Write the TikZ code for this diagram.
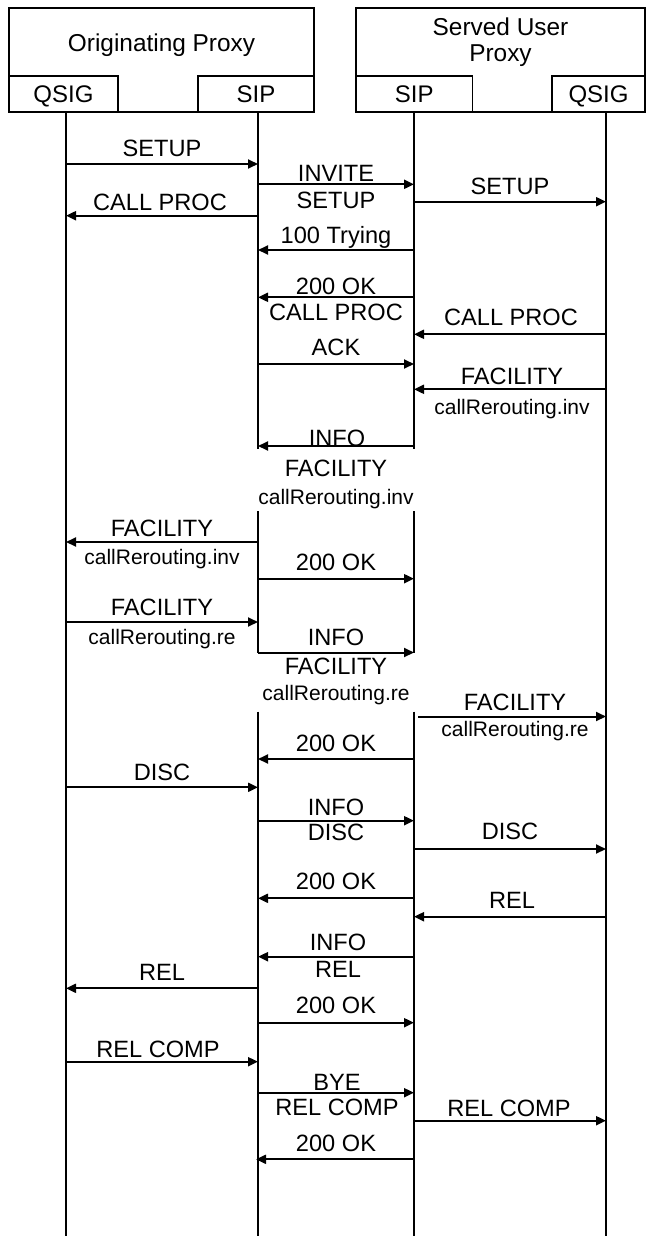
\documentclass[tikz,border=0pt]{standalone}
\usepackage{fontspec}
\setmainfont{Liberation Sans}
\usetikzlibrary{arrows.meta}
\newcommand\seqarrow[4]{%
  \coordinate (#1s) at (#2,#4);
  \coordinate (#1e) at (#3,#4);
  \draw[msg] (#1s) -- (#1e);}
\newcommand\seqlabel[4]{\node[lbl] (#1) at (#2,#3+8.5) {#4};}
\newcommand\seqsmall[4]{\node[slbl] (#1) at (#2,#3+7.5) {#4};}
\begin{document}
\begin{tikzpicture}[x=0.5pt,y=-0.5pt,
  box/.style={draw, line width=0.85pt, inner sep=0pt, text height=8.6pt, text depth=0pt, font=\fontsize{12}{14}\selectfont},
  hdr/.style={anchor=base, inner sep=0pt, font=\fontsize{12.2}{14}\selectfont},
  life/.style={line width=0.65pt},
  msg/.style={line width=1pt, -{Triangle[length=5pt,width=4.5pt]}},
  lbl/.style={anchor=base, inner sep=0pt, font=\fontsize{11.8}{14}\selectfont},
  slbl/.style={anchor=base, inner sep=0pt, font=\fontsize{10.5}{12}\selectfont}]
\useasboundingbox (0,0) rectangle (652,1236);
% header boxes
\node[draw, line width=0.85pt, inner sep=0pt, minimum width=152.5pt, minimum height=52pt] (orig) at (161.5,60) {};
\node[hdr] (origT) at (161.5,51.5) {Originating Proxy};
\node[draw, line width=0.85pt, inner sep=0pt, minimum width=144.5pt, minimum height=52pt] (serv) at (500.5,60) {};
\node[hdr] (servT1) at (500.5,35.5) {Served User};
\node[hdr] (servT2) at (500.5,61.5) {Proxy};
\node[box, minimum width=54.5pt, minimum height=18.2pt] (qsigA) at (63.5,94) {QSIG};
\node[box, minimum width=58pt, minimum height=18.2pt] (sipA) at (256,94) {SIP};
\node[box, minimum width=58.3pt, minimum height=18.2pt] (sipB) at (414.3,94) {SIP};
\node[box, minimum width=46.5pt, minimum height=18.2pt] (qsigB) at (598.5,94) {QSIG};
% lifelines
\coordinate (l1a) at (66,112); \coordinate (l1z) at (66,1236);
\coordinate (l2a) at (258,112); \coordinate (l2b) at (258,449);
\coordinate (l2c) at (258,511); \coordinate (l2d) at (258,653);
\coordinate (l2e) at (258,711.5); \coordinate (l2z) at (258,1236);
\coordinate (l3a) at (414,112); \coordinate (l3b) at (414,449);
\coordinate (l3c) at (414,511); \coordinate (l3d) at (414,653);
\coordinate (l3e) at (414,711.5); \coordinate (l3z) at (414,1236);
\coordinate (l4a) at (606,112); \coordinate (l4z) at (606,1236);
\draw[life] (l1a) -- (l1z);
\draw[life] (l2a) -- (l2b) (l2c) -- (l2d) (l2e) -- (l2z);
\draw[life] (l3a) -- (l3b) (l3c) -- (l3d) (l3e) -- (l3z);
\draw[life] (l4a) -- (l4z);
% messages
\seqarrow{m1}{66}{258}{164}\seqlabel{t1}{162}{148}{SETUP}
\seqarrow{m2}{258}{414}{184.3}\seqlabel{t2a}{336}{173}{INVITE}\seqlabel{t2b}{336}{200}{SETUP}
\seqarrow{m3}{414}{606}{201.7}\seqlabel{t3}{510}{185.7}{SETUP}
\seqarrow{m4}{258}{66}{215.7}\seqlabel{t4}{160}{202.3}{CALL PROC}
\seqarrow{m5}{414}{258}{250}\seqlabel{t5}{336}{234.5}{100 Trying}
\seqarrow{m6}{414}{258}{297.3}\seqlabel{t6a}{336}{286}{200 OK}\seqlabel{t6b}{336}{312}{CALL PROC}
\seqarrow{m7}{606}{414}{334.3}\seqlabel{t7}{511}{316.5}{CALL PROC}
\seqarrow{m8}{258}{414}{364}\seqlabel{t8}{336}{347.3}{ACK}
\seqarrow{m9}{606}{414}{389.3}\seqlabel{t9a}{512}{375.7}{FACILITY}\seqsmall{t9b}{512}{407.3}{callRerouting.inv}
\seqarrow{m10}{414}{258}{446}\seqlabel{t10a}{337}{437.7}{INFO}\seqlabel{t10b}{336}{467.5}{FACILITY}\seqsmall{t10c}{336}{496.5}{callRerouting.inv}
\seqarrow{m11}{258}{66}{542}\seqlabel{t11a}{162}{527.7}{FACILITY}\seqsmall{t11b}{162}{556.7}{callRerouting.inv}
\seqarrow{m12}{258}{414}{578.7}\seqlabel{t12}{336}{562.3}{200 OK}
\seqarrow{m13}{66}{258}{622}\seqlabel{t13a}{162}{607.3}{FACILITY}\seqsmall{t13b}{162}{636.7}{callRerouting.re}
\seqarrow{m14}{258}{414}{652.5}\seqlabel{t14a}{336}{637.3}{INFO}\seqlabel{t14b}{336}{665.5}{FACILITY}\seqsmall{t14c}{336}{693}{callRerouting.re}
\seqarrow{m15}{418}{606}{716.5}\seqlabel{t15a}{515}{702.3}{FACILITY}\seqsmall{t15b}{515}{729.3}{callRerouting.re}
\seqarrow{m16}{414}{258}{759}\seqlabel{t16}{336}{743.3}{200 OK}
\seqarrow{m17}{66}{258}{787.3}\seqlabel{t17}{162}{771.7}{DISC}
\seqarrow{m18}{258}{414}{820.7}\seqlabel{t18a}{336}{807.3}{INFO}\seqlabel{t18b}{336}{831.7}{DISC}
\seqarrow{m19}{414}{606}{849}\seqlabel{t19}{510}{830.7}{DISC}
\seqarrow{m20}{414}{258}{898.3}\seqlabel{t20}{336}{880.7}{200 OK}
\seqarrow{m21}{606}{414}{916.7}\seqlabel{t21}{512}{900}{REL}
\seqarrow{m22}{414}{258}{956.7}\seqlabel{t22a}{338}{942.3}{INFO}\seqlabel{t22b}{338}{969.3}{REL}
\seqarrow{m23}{258}{66}{988.3}\seqlabel{t23}{162}{972.3}{REL}
\seqarrow{m24}{258}{414}{1022.7}\seqlabel{t24}{336}{1005}{200 OK}
\seqarrow{m25}{66}{258}{1061.7}\seqlabel{t25}{158}{1049}{REL COMP}
\seqarrow{m26}{258}{414}{1092.7}\seqlabel{t26a}{337}{1081.7}{BYE}\seqlabel{t26b}{337}{1106.7}{REL COMP}
\seqarrow{m27}{414}{606}{1120.7}\seqlabel{t27}{509}{1107.7}{REL COMP}
\seqarrow{m28}{414}{256}{1159.3}\seqlabel{t28}{336}{1143.3}{200 OK}
\end{tikzpicture}
\end{document}
